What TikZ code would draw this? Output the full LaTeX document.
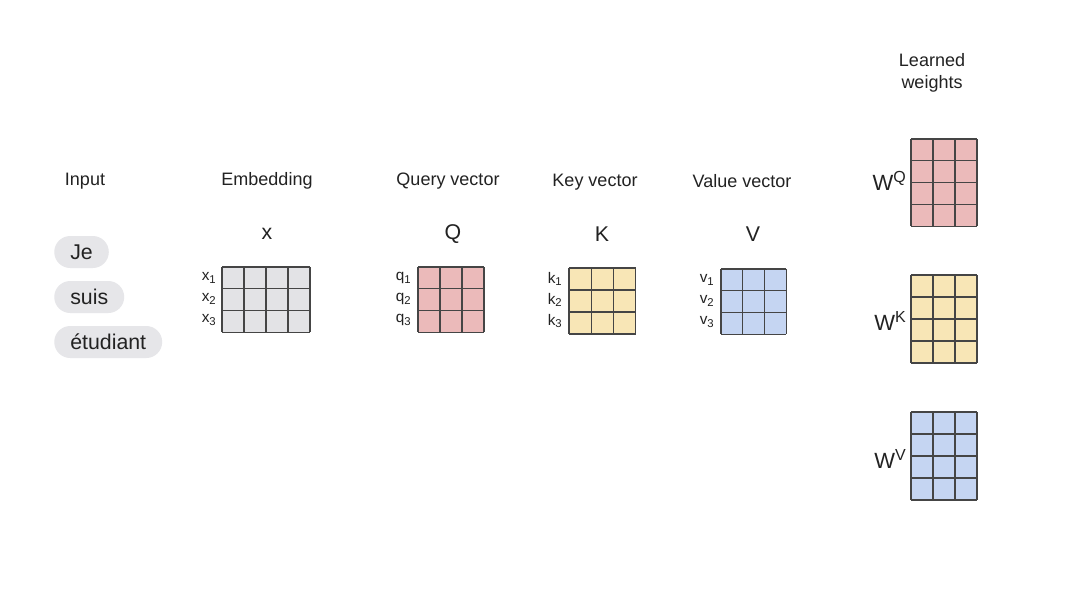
\documentclass[tikz,border=0pt]{standalone}
\usepackage{fontspec}
\setmainfont{Liberation Sans}
\definecolor{gfill}{HTML}{E3E3E6}
\definecolor{pfill}{HTML}{EBBABA}
\definecolor{yfill}{HTML}{F8E6B6}
\definecolor{bfill}{HTML}{C5D5F2}
\definecolor{pill}{HTML}{E6E6E9}
\definecolor{gline}{HTML}{454545}
\definecolor{txt}{HTML}{222222}
\tikzset{
  lbl/.style={text=txt,font=\fontsize{13.5}{16}\selectfont,inner sep=0pt},
  head/.style={text=txt,font=\fontsize{16}{18}\selectfont,inner sep=0pt},
  word/.style={text=txt,font=\fontsize{16}{18}\selectfont,fill=pill,rounded corners=12pt,
     minimum height=24pt,inner xsep=12pt,inner ysep=0pt,anchor=west},
  rowlbl/.style={text=txt,font=\fontsize{11.5}{12}\selectfont,inner sep=0pt,anchor=east},
  wlbl/.style={text=txt,font=\fontsize{16.5}{18}\selectfont,inner sep=0pt,anchor=east},
  gl/.style={draw=gline,line width=0.8pt}
}
\newcommand{\gridmat}[8]{%
  % name, x0, y0, cols, rows, cw, ch, fill
  \path[fill=#8] (#2,#3) rectangle ({#2+#4*#6},{#3+#5*#7});
  \coordinate (#1-nw) at (#2,#3);
  \coordinate (#1-se) at ({#2+#4*#6},{#3+#5*#7});
  \foreach \i in {0,...,#4} {\draw[gl] ({#2+\i*#6},#3) -- ({#2+\i*#6},{#3+#5*#7});}
  \foreach \j in {0,...,#5} {\draw[gl] (#2,{#3+\j*#7}) -- ({#2+#4*#6},{#3+\j*#7});}
}
\newcommand{\subl}[2]{#1\raisebox{-0.35ex}{\fontsize{8.5}{9}\selectfont #2}}
\newcommand{\supl}[2]{#1\raisebox{0.75ex}{\fontsize{12}{13}\selectfont #2}}
\begin{document}
\begin{tikzpicture}[x=0.75pt,y=-0.75pt]
\useasboundingbox[fill=white] (0,0) rectangle (1080,608);
% headings
\node[lbl] (hin) at (85,181) {Input};
\node[lbl] (hemb) at (267,181) {Embedding};
\node[lbl] (hq) at (448,181) {Query vector};
\node[lbl] (hk) at (595,182) {Key vector};
\node[lbl] (hv) at (742,181) {Value vector};
\node[lbl,align=center] (hlw) at (932,73) {Learned\\weights};
% words
\node[word] (w1) at (54,252) {Je};
\node[word] (w2) at (54,297) {suis};
\node[word] (w3) at (54,342) {étudiant};
% matrix symbols
\node[head] (sx) at (267,234) {x};
\node[head] (sq) at (453,234) {Q};
\node[head] (sk) at (602,234) {K};
\node[head] (sv) at (753,234) {V};
% matrices
\gridmat{mx}{222}{267}{4}{3}{22}{21.7}{gfill}
\gridmat{mq}{418}{267}{3}{3}{22}{21.7}{pfill}
\gridmat{mk}{569}{268}{3}{3}{22.3}{22}{yfill}
\gridmat{mv}{721}{269}{3}{3}{21.7}{21.7}{bfill}
\gridmat{wq}{911}{139}{3}{4}{22}{21.8}{pfill}
\gridmat{wk}{911}{275}{3}{4}{22}{22}{yfill}
\gridmat{wv}{911}{412}{3}{4}{22}{22}{bfill}
% row labels
\foreach \k/\yy in {1/278,2/299,3/320} {
  \node[rowlbl] (rx\k) at (216,\yy) {\subl{x}{\k}};
  \node[rowlbl] (rq\k) at (411,\yy) {\subl{q}{\k}};
  \node[rowlbl] (rk\k) at (562,{\yy+1}) {\subl{k}{\k}};
  \node[rowlbl] (rv\k) at (714,{\yy+2}) {\subl{v}{\k}};
}
% W labels
\node[wlbl] (lwq) at (906,181) {\supl{W}{Q}};
\node[wlbl] (lwk) at (906,321) {\supl{W}{K}};
\node[wlbl] (lwv) at (906,459) {\supl{W}{V}};
\end{tikzpicture}
\end{document}
